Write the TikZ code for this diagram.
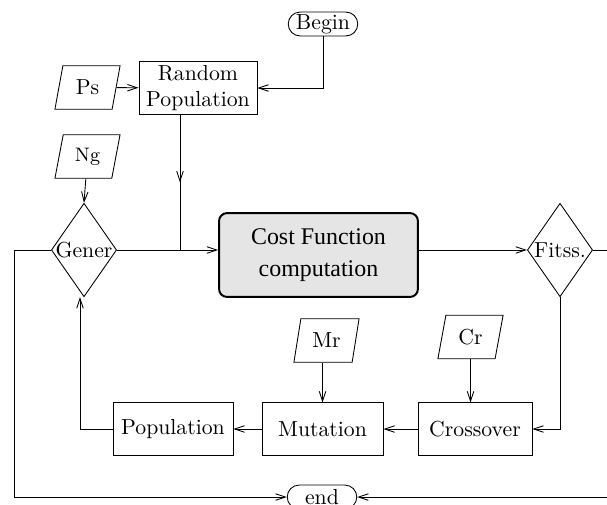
\documentclass[tikz,border=0pt]{standalone}
\usepackage{fontspec}
\newfontfamily\timesfont{Liberation Serif}
\usetikzlibrary{arrows.meta,shapes.geometric,shapes.misc,decorations.markings}

\begin{document}
\begin{tikzpicture}[
            x=0.46pt, y=-0.46pt,
            >={Straight Barb[length=4.5pt,width=3pt]},
            every node/.style={align=center, draw, inner sep=1pt},
            terminal/.style={rounded rectangle, minimum width=34pt, minimum height=11pt},
            process/.style={rectangle, minimum height=24pt},
            data/.style={trapezium, trapezium stretches=true, trapezium left angle=77,
                trapezium right angle=103, minimum width=30pt, minimum height=20pt},
            decision/.style={diamond, minimum width=30pt, minimum height=43pt, inner sep=0pt},
            costbox/.style={rounded corners=3.7pt, fill=black!10, line width=0.9pt,
                minimum width=91.5pt, minimum height=38.6pt, font=\timesfont\fontsize{11}{15}\selectfont},
            midarrow/.style={decoration={markings, mark=at position 0.5 with {\arrow{>}}},
                postaction={decorate}}
            ]
            \clip (0,0) rectangle (607,504);
            \node[terminal] (begin) at (323,24) {Begin};
            \node[process, minimum width=54.3pt] (rp) at (198,88) {Random\\Population};
            \node[data] (ps) at (87.5,87.5) {Ps};
            \node[data, font=\small] (ng) at (87.5,156.5) {Ng};
            \node[decision, label=center:Gener] (gener) at (84,250) {};
            \node[costbox] (cost) at (318.5,255) {Cost Function\\computation};
            \node[decision, label=center:Fitss.] (fit) at (560,250) {};
            \node[data] (mr) at (326.5,340.5) {Mr};
            \node[data] (cr) at (470.5,337) {Cr};
            \node[process, minimum width=52.4pt] (cross) at (475,429) {Crossover};
            \node[process, minimum width=55.7pt] (mut) at (322.5,429) {Mutation};
            \node[process, minimum width=55.2pt] (pop) at (173,429) {Population};
            \node[terminal] (end) at (322,497) {end};
            \coordinate (join) at (180,250);
            \coordinate (back) at (14,250);
            \coordinate (far) at (640,250);
            \coordinate (up) at (80,250);

            \draw[->] (begin) |- (rp.east);
            \draw[->] (ps) -- (rp);
            \draw[midarrow] (join |- rp.south) -- (join);
            \draw[->] (gener.east) -- (cost.west |- gener.east);
            \draw[->] (ng) -- (gener.north);
            \draw[->] (cost.east |- fit.west) -- (fit.west);
            \draw[->] (fit.east) -- (far) |- (end.east);
            \draw[->] (gener.west) -- (back) |- (end.west);
            \draw[->] (fit.south) |- (cross.east);
            \draw[->] (cr.south) -- (cr.south |- cross.north);
            \draw[->] (cross) -- (mut);
            \draw[->] (mut.north |- mr.south) -- (mut.north);
            \draw[->] (mut) -- (pop);
            \draw[->] (pop.west) -| (up |- gener.south);
\end{tikzpicture}
\end{document}
